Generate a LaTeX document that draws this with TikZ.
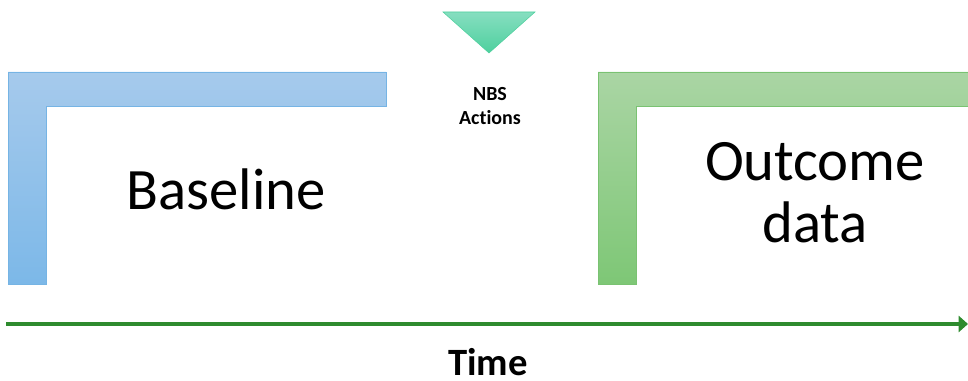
\documentclass[tikz,border=0pt]{standalone}
\usepackage{fontspec}
\setmainfont{Carlito}[Ligatures=CommonOff]
\usetikzlibrary{arrows.meta}
\definecolor{basetop}{RGB}{166,202,236}
\definecolor{basebot}{RGB}{124,184,232}
\definecolor{baseedge}{RGB}{118,180,228}
\definecolor{outtop}{RGB}{170,213,164}
\definecolor{outbot}{RGB}{126,199,118}
\definecolor{outedge}{RGB}{122,194,114}
\definecolor{nbstop}{RGB}{134,222,192}
\definecolor{nbsbot}{RGB}{78,208,158}
\definecolor{timegreen}{RGB}{46,139,46}
\begin{document}
\begin{tikzpicture}[x=0.75pt,y=-0.75pt,
    timeline/.style={line width=3pt, draw=timegreen, -{Triangle[length=7pt,width=12pt]}}]
  \def\baseL{(8,72) -- (386,72) -- (386,106) -- (46,106) -- (46,284) -- (8,284) -- cycle}
  \def\outL{(598,72) -- (968,72) -- (968,106) -- (636,106) -- (636,284) -- (598,284) -- cycle}
  \def\nbsT{(443,12) -- (535,12) -- (489,53) -- cycle}
  \useasboundingbox (0,0) rectangle (968,381);
      \shadedraw[draw=baseedge, top color=basetop, bottom color=basebot] \baseL;
      \shadedraw[draw=outedge, top color=outtop, bottom color=outbot] \outL;
      \shadedraw[draw=nbsbot, top color=nbstop, bottom color=nbsbot] \nbsT;
      \node[anchor=base, font={\fontsize{44}{53}\selectfont}] (baseline) at (226,210) {Baseline};
      \node[align=center, font={\fontsize{44}{46.5}\selectfont}] (outcome) at (815,193) {Outcome\\data};
      \node[align=center, font={\fontsize{15}{18}\selectfont\bfseries}] (nbs) at (490,106) {NBS\\Actions};
      \node[anchor=base, inner sep=0pt, font={\fontsize{29}{34}\selectfont\bfseries}] (time) at (488,375) {Time};
      \coordinate (tstart) at (6,324);
      \coordinate (tend) at (968,324);
      \draw[timeline] (tstart) -- (tend);
  \end{tikzpicture}
\end{document}
